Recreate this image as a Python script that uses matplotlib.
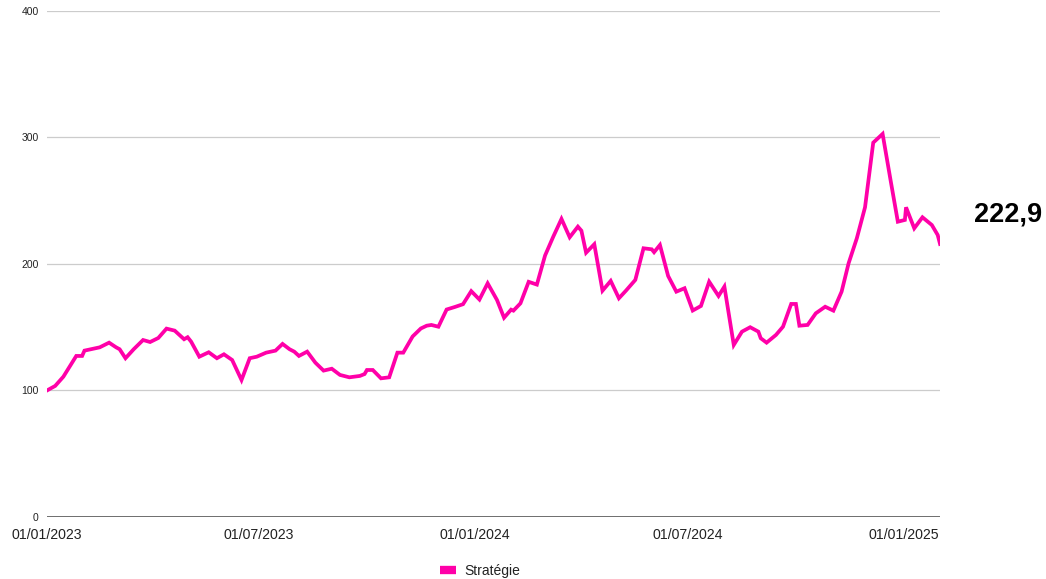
import pandas as pd
import matplotlib.pyplot as plt
import matplotlib.dates as mdates

plt.rcParams['font.family'] = ['Liberation Sans', 'DejaVu Sans']

# weekly-ish points
dates = [
    "2023-01-01", "2023-01-08", "2023-01-15", "2023-01-26", "2023-01-31", "2023-02-02",
    "2023-02-15", "2023-02-23", "2023-03-01", "2023-03-04", "2023-03-09", "2023-03-16",
    "2023-03-24", "2023-03-30", "2023-04-06", "2023-04-13", "2023-04-20", "2023-04-28",
    "2023-05-01", "2023-05-04", "2023-05-11", "2023-05-19", "2023-05-26", "2023-06-01",
    "2023-06-08", "2023-06-16", "2023-06-23", "2023-06-29", "2023-07-07", "2023-07-15",
    "2023-07-21", "2023-07-27", "2023-07-31", "2023-08-04", "2023-08-11", "2023-08-18",
    "2023-08-25", "2023-09-01", "2023-09-08", "2023-09-16", "2023-09-25", "2023-09-29",
    "2023-10-01", "2023-10-06", "2023-10-13", "2023-10-20", "2023-10-27", "2023-11-01",
    "2023-11-09", "2023-11-16", "2023-11-21", "2023-11-25", "2023-12-01", "2023-12-08",
    "2023-12-15", "2023-12-22", "2023-12-29", "2024-01-05", "2024-01-12", "2024-01-20",
    "2024-01-26", "2024-02-01", "2024-02-03", "2024-02-09", "2024-02-16", "2024-02-23",
    "2024-03-01", "2024-03-08", "2024-03-15", "2024-03-22", "2024-03-29", "2024-04-01",
    "2024-04-05", "2024-04-12", "2024-04-19", "2024-04-26", "2024-05-03", "2024-05-09",
    "2024-05-17", "2024-05-24", "2024-05-31", "2024-06-02", "2024-06-07", "2024-06-14",
    "2024-06-21", "2024-06-28", "2024-07-05", "2024-07-12", "2024-07-19", "2024-07-27",
    "2024-08-01", "2024-08-09", "2024-08-16", "2024-08-23", "2024-08-30", "2024-09-01",
    "2024-09-06", "2024-09-14", "2024-09-20", "2024-09-27", "2024-10-01", "2024-10-04",
    "2024-10-11", "2024-10-18", "2024-10-26", "2024-11-02", "2024-11-09", "2024-11-15",
    "2024-11-22", "2024-11-29", "2024-12-06", "2024-12-14", "2024-12-21", "2024-12-27",
    "2025-01-02", "2025-01-03", "2025-01-10", "2025-01-17", "2025-01-25", "2025-01-30",
    "2025-02-01",
]
strategie = [
    100.0, 103.6, 110.9, 127.3, 127.3, 131.5,
    134.1, 137.8, 134.1, 132.6, 125.5, 132.6,
    139.9, 138.3, 141.5, 148.9, 147.3, 140.5,
    142.1, 138.6, 126.7, 130.2, 125.5, 128.6,
    124.1, 108.3, 125.5, 126.7, 129.9, 131.5,
    136.8, 132.6, 130.7, 127.3, 130.7, 122.0,
    115.7, 117.2, 112.3, 110.4, 111.5, 113.0,
    116.2, 116.2, 109.6, 110.4, 129.9, 129.9,
    142.7, 149.0, 151.2, 151.8, 150.4, 164.0,
    166.0, 168.2, 178.5, 171.9, 184.7, 171.5,
    157.5, 163.9, 163.1, 168.9, 185.9, 183.7,
    206.7, 221.6, 235.6, 221.1, 229.5, 226.3,
    208.9, 215.6, 178.9, 186.6, 172.9, 178.9,
    187.4, 212.4, 211.6, 209.3, 215.0, 190.5,
    178.1, 180.8, 163.2, 166.8, 186.0, 174.7,
    182.1, 136.0, 146.5, 150.0, 146.5, 141.3,
    137.8, 143.9, 150.4, 168.4, 168.4, 151.2,
    151.8, 161.0, 166.2, 163.1, 178.1, 200.6,
    220.3, 244.8, 295.9, 302.8, 265.1, 233.4,
    234.8, 244.8, 228.2, 236.9, 230.8, 222.9,
    215.8,
]
last_label = "222,9"
y_ticks = [0, 100, 200, 300, 400]
x_ticks = ["2023-01-01", "2023-07-01", "2024-01-01", "2024-07-01", "2025-01-01"]

df = pd.DataFrame({"date": pd.to_datetime(dates), "val": strategie})

fig = plt.figure(figsize=(10.46, 5.79), dpi=100)
ax = fig.add_axes([0.0449, 0.1071, 0.8538, 0.874])

pink = "#ff00a8"
ax.plot(df["date"], df["val"], color=pink, lw=2.7, label="Stratégie",
        solid_joinstyle="miter", zorder=3)

ax.set_ylim(0, 400)
ax.set_yticks(y_ticks)
ax.set_xlim(pd.Timestamp("2023-01-01"), pd.Timestamp("2025-02-01"))
ax.set_xticks(pd.to_datetime(x_ticks))
ax.xaxis.set_major_formatter(mdates.DateFormatter("%d/%m/%Y"))

for y in y_ticks[1:]:
    ax.axhline(y, color="#cccccc", lw=0.9, zorder=1)
ax.axhline(0, color="#555555", lw=1.2, zorder=2)

for s in ax.spines.values():
    s.set_visible(False)
ax.tick_params(axis="y", length=0, pad=6, labelsize=7.5, labelcolor="#222222")
ax.tick_params(axis="x", length=0, pad=8, labelsize=10.2, labelcolor="#222222")

fig.text(0.931, 1 - 215 / 579, last_label, fontsize=19.5, fontweight="bold",
         ha="left", va="center", color="black")

fig.legend(loc="center", bbox_to_anchor=(0.459, 1 - 571 / 579), frameon=False,
           fontsize=10, handlelength=1.1, handletextpad=0.6,
           labelcolor="#222222")
leg = fig.legends[0]
for h in leg.legend_handles:
    h.set_linewidth(6)
    h.set_solid_capstyle("butt")

fig.savefig("out.png", dpi=100)
